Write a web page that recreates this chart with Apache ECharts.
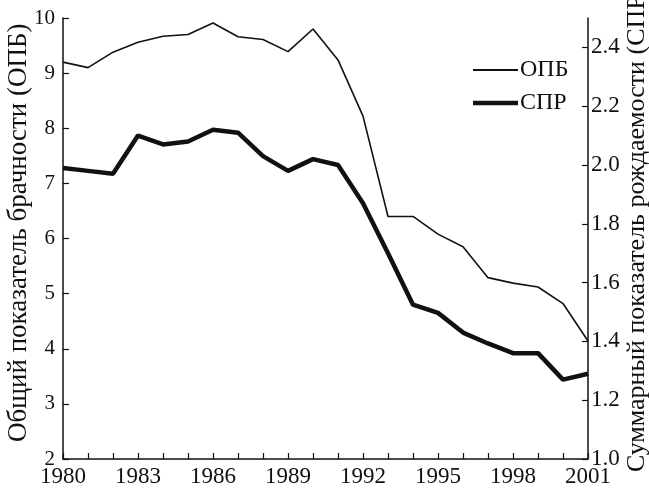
<!DOCTYPE html>
<html>
<head>
<meta charset="utf-8">
<script src="https://cdn.jsdelivr.net/npm/echarts@6/dist/echarts.min.js"></script>
<style>
  html, body { margin: 0; padding: 0; background: #fff; }
  #box { width: 649px; height: 488px; }
</style>
</head>
<body>
<div id="box"></div>
<script>
// годы и значения
var years = [1980, 1981, 1982, 1983, 1984, 1985, 1986, 1987, 1988, 1989, 1990,
             1991, 1992, 1993, 1994, 1995, 1996, 1997, 1998, 1999, 2000, 2001]
// общий показатель брачности (левая ось)
var opb = [9.2, 9.1, 9.38, 9.56, 9.67, 9.7, 9.91, 9.66, 9.61, 9.39, 9.8,
           9.24, 8.22, 6.4, 6.4, 6.08, 5.85, 5.29, 5.19, 5.12, 4.82, 4.14]
// суммарный показатель рождаемости (правая ось)
var spr = [1.99, 1.98, 1.97, 2.1, 2.07, 2.08, 2.12, 2.11, 2.03, 1.98, 2.02,
           2.0, 1.87, 1.7, 1.525, 1.497, 1.43, 1.393, 1.36, 1.36, 1.27, 1.29]

var leftTicks = [2, 10, 1]
var rightTicks = [1.0, 2.5, 0.2]

var font = 'Liberation Serif'
var ink = '#111'

var box = document.getElementById('box')
var chart = echarts.init(box)

function pairs(ys) {
    var out = []
    for (var i = 0; i < years.length; i++) out.push([years[i], ys[i]])
    return out
}

// одна легенда на серию, чтобы толщина значка была разной
function legendFor(name, top, h) {
    return {
        orient: 'vertical',
        left: 473,
        top: top,
        padding: 0,
        icon: 'rect',
        itemWidth: 45,
        itemHeight: h,
        itemStyle: { color: ink },
        textStyle: { fontFamily: font, fontSize: 24, color: ink, padding: [4, 0, 0, -3] },
        data: [name]
    }
}

var option = {
    animation: false,
    backgroundColor: '#fff',
    grid: { left: 63, right: 61, top: 18, bottom: 25 },
    legend: [legendFor('ОПБ', 58, 2), legendFor('СПР', 91, 4.5)],
    xAxis: {
        type: 'value',
        min: 1980,
        max: 2001,
        interval: 1,
        axisLine: { lineStyle: { color: ink, width: 1.5 } },
        axisTick: { inside: true, length: 6, lineStyle: { color: ink, width: 1.2 } },
        splitLine: { show: false },
        axisLabel: {
            margin: 6,
            fontFamily: font,
            fontSize: 23,
            color: ink,
            formatter: function (v) { return (v - 1980) % 3 === 0 ? String(v) : '' }
        }
    },
    yAxis: [{
        type: 'value',
        min: leftTicks[0],
        max: leftTicks[1],
        interval: leftTicks[2],
        axisLine: { show: true, lineStyle: { color: ink, width: 1.5 } },
        axisTick: { show: true, inside: true, length: 6, lineStyle: { color: ink, width: 1.2 } },
        splitLine: { show: false },
        axisLabel: { margin: 8, fontFamily: font, fontSize: 21, color: ink }
    }, {
        type: 'value',
        position: 'right',
        min: rightTicks[0],
        max: rightTicks[1],
        interval: rightTicks[2],
        axisLine: { show: true, lineStyle: { color: ink, width: 1.5 } },
        axisTick: { show: true, inside: true, length: 6, lineStyle: { color: ink, width: 1.2 } },
        splitLine: { show: false },
        axisLabel: {
            margin: 3,
            fontFamily: font,
            fontSize: 23,
            color: ink,
            showMaxLabel: false,
            formatter: function (v) { return v.toFixed(1) }
        }
    }],
    graphic: [{
        type: 'text',
        x: 19,
        y: 442,
        rotation: Math.PI / 2,
        style: {
            text: 'Общий показатель брачности (ОПБ)',
            fontFamily: font,
            fontSize: 27,
            fill: ink,
            textAlign: 'left',
            textVerticalAlign: 'middle'
        }
    }, {
        type: 'text',
        x: 637,
        y: 472,
        rotation: Math.PI / 2,
        style: {
            text: 'Суммарный показатель рождаемости (СПР)',
            fontFamily: font,
            fontSize: 26,
            fill: ink,
            textAlign: 'left',
            textVerticalAlign: 'middle'
        }
    }],
    series: [{
        name: 'ОПБ',
        type: 'line',
        yAxisIndex: 0,
        symbol: 'none',
        lineStyle: { color: ink, width: 1.6 },
        itemStyle: { color: ink },
        data: pairs(opb)
    }, {
        name: 'СПР',
        type: 'line',
        yAxisIndex: 1,
        symbol: 'none',
        lineStyle: { color: ink, width: 4.5 },
        itemStyle: { color: ink },
        data: pairs(spr)
    }]
}

chart.setOption(option)
</script>
</body>
</html>
